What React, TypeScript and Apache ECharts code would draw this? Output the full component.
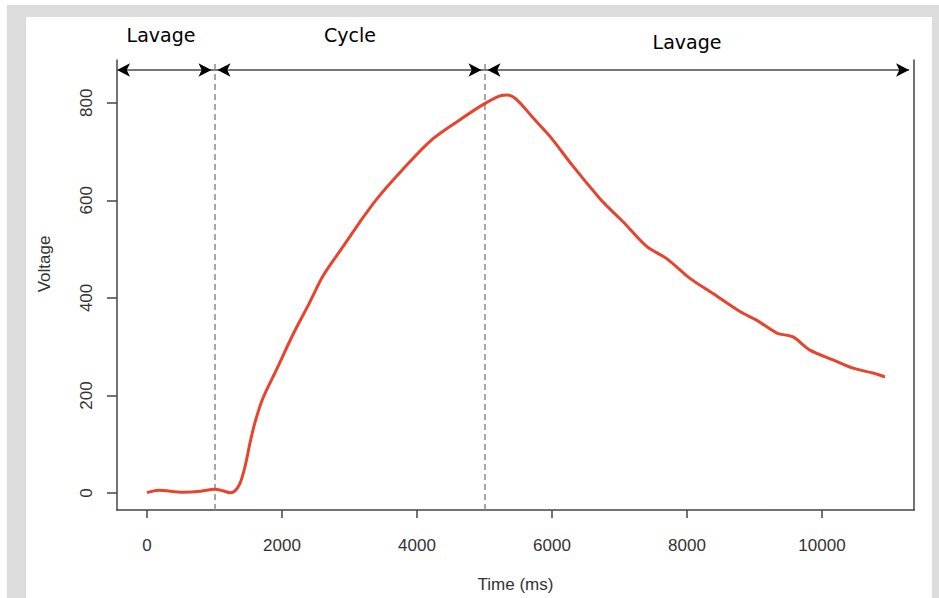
import React, { useEffect, useRef } from 'react';
import * as echarts from 'echarts';

// Data
const timeMs = [0, 170, 530, 800, 1000, 1120, 1230, 1300, 1378, 1450, 1530, 1600, 1719, 1926, 2163, 2415, 2607, 2904, 3156, 3407, 3748, 4193, 4637, 4978, 5230, 5340, 5481, 5719, 5970, 6311, 6711, 6815, 7052, 7407, 7704, 8044, 8385, 8785, 9037, 9333, 9570, 9822, 10163, 10459, 10756, 10933];
const voltage = [1, 6, 2, 4, 8, 5, 1, 4, 20, 53, 105, 145, 195, 255, 325, 392, 445, 505, 556, 603, 657, 721, 765, 796, 814, 816, 806, 769, 731, 670, 603, 588, 556, 505, 480, 440, 409, 372, 354, 328, 320, 293, 273, 256, 246, 238];

const xTicks = [0, 2000, 4000, 6000, 8000, 10000];
const yTicks = [0, 200, 400, 600, 800];
const phaseBoundaries = [1000, 5000];
const phaseLabels = ['Lavage', 'Cycle', 'Lavage'];

const X_MIN = -444;
const X_MAX = 11363;
const Y_MIN = -34.6;
const Y_MAX = 887.5;
const ARROW_LEVEL = 867;
const ARROW_END = 11290;

export default function App() {
  const ref = useRef<HTMLDivElement>(null);

  useEffect(() => {
    if (!ref.current) return;
    const chart = echarts.init(ref.current, undefined, { renderer: 'svg' });

    const bounds = [X_MIN, ...phaseBoundaries, ARROW_END];
    const segs = phaseLabels.map((_, i) => [
      { coord: [bounds[i], ARROW_LEVEL] },
      { coord: [bounds[i + 1], ARROW_LEVEL] },
    ]);

    // arrow heads: left-pointing at segment starts, right-pointing at segment ends
    const AW = 10;
    const AL = 13;
    const heads: any[] = [];
    phaseLabels.forEach((_, i) => {
      const startGap = i === 0 ? 0 : 3;
      const endGap = i === phaseLabels.length - 1 ? 0 : 3;
      heads.push({
        coord: [bounds[i], ARROW_LEVEL],
        symbolRotate: 90,
        symbolOffset: [startGap, 0],
      });
      heads.push({
        coord: [bounds[i + 1], ARROW_LEVEL],
        symbolRotate: -90,
        symbolOffset: [-endGap, 0],
      });
    });

    const axisColor = '#444';
    const textColor = '#333';
    const fontFamily = 'Liberation Sans, Arial, sans-serif';
    const plain = (v: number) => String(v);

    chart.setOption({
      animation: false,
      grid: { left: 117, top: 60, right: 25, bottom: 85 },
      xAxis: {
        type: 'value',
        min: X_MIN,
        max: X_MAX,
        name: 'Time (ms)',
        nameLocation: 'middle',
        nameGap: 66,
        nameTextStyle: { fontFamily, fontSize: 17, color: textColor },
        splitLine: { show: false },
        axisLine: { onZero: false, lineStyle: { color: axisColor, width: 1.5 } },
        axisTick: { customValues: xTicks, length: 8, lineStyle: { color: axisColor, width: 1.5 } },
        axisLabel: { customValues: xTicks, formatter: plain, margin: 27, fontFamily, fontSize: 17, color: textColor },
      },
      yAxis: [
        {
          type: 'value',
          min: Y_MIN,
          max: Y_MAX,
          splitLine: { show: false },
          axisLine: { show: true, onZero: false, lineStyle: { color: axisColor, width: 1.5 } },
          axisTick: { show: true, customValues: yTicks, length: 10, lineStyle: { color: axisColor, width: 1.5 } },
          axisLabel: { customValues: yTicks, formatter: plain, rotate: 90, margin: 22, fontFamily, fontSize: 17, color: textColor },
        },
        {
          type: 'value',
          position: 'right',
          min: Y_MIN,
          max: Y_MAX,
          splitLine: { show: false },
          axisLine: { show: true, onZero: false, lineStyle: { color: axisColor, width: 1.5 } },
          axisTick: { show: false },
          axisLabel: { show: false },
        },
      ],
      graphic: [
        { type: 'text', x: 161, y: 35, style: { text: phaseLabels[0], font: '19px "DejaVu Sans"', fill: '#000', align: 'center', verticalAlign: 'middle' } },
        { type: 'text', x: 350, y: 35, style: { text: phaseLabels[1], font: '19px "DejaVu Sans"', fill: '#000', align: 'center', verticalAlign: 'middle' } },
        { type: 'text', x: 687, y: 42, style: { text: phaseLabels[2], font: '19px "DejaVu Sans"', fill: '#000', align: 'center', verticalAlign: 'middle' } },
        { type: 'text', x: 44, y: 264, rotation: Math.PI / 2, style: { text: 'Voltage', font: '17px "Liberation Sans"', fill: textColor, align: 'center', verticalAlign: 'middle' } },
      ],
      series: [
        {
          type: 'line',
          data: timeMs.map((t, i) => [t, voltage[i]]),
          showSymbol: false,
          smooth: 0.3,
          lineStyle: { color: '#e8432f', width: 3 },
          itemStyle: { color: '#e8432f' },
          z: 5,
          markLine: {
            silent: true,
            symbol: 'none',
            label: { show: false },
            lineStyle: { color: '#8c8c8c', type: [6, 4], width: 1.5 },
            data: phaseBoundaries.map((b) => ({ xAxis: b })),
          },
        },
        {
          type: 'line',
          data: [],
          markLine: {
            silent: true,
            symbol: 'none',
            label: { show: false },
            lineStyle: { color: '#777', type: 'solid', width: 2 },
            data: segs,
          },
          markPoint: {
            silent: true,
            symbol: 'arrow',
            symbolSize: [AW, AL],
            label: { show: false },
            itemStyle: { color: '#000' },
            data: heads,
          },
        },
      ],
    });

    return () => chart.dispose();
  }, []);

  return (
    <div style={{ position: 'fixed', left: 0, top: 0, width: 939, height: 598, background: '#fff' }}>
      <div style={{ position: 'absolute', left: 7, top: 5, width: 932, height: 593, background: '#dcdcdc' }} />
      <div style={{ position: 'absolute', left: 26, top: 17, width: 906, height: 581, background: '#fff' }} />
      <div ref={ref} style={{ position: 'absolute', left: 0, top: 0, width: 939, height: 598 }} />
    </div>
  );
}
